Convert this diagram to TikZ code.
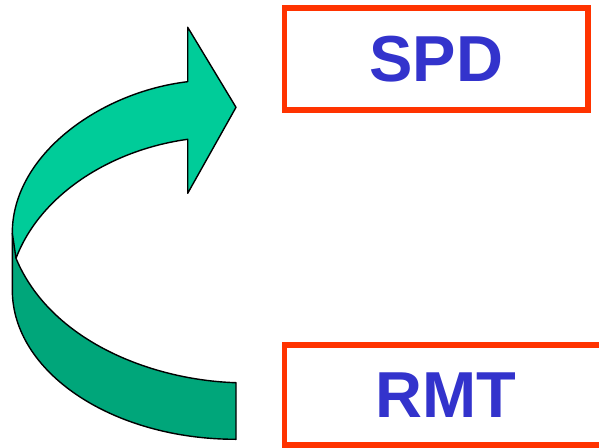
\documentclass[tikz,border=0pt]{standalone}
\usepackage{fontspec}
\setmainfont{Liberation Sans}
\usepackage{tikz}
\usetikzlibrary{positioning}
\definecolor{boxred}{RGB}{255,51,0}
\definecolor{textblue}{RGB}{51,51,204}
\definecolor{lightgreen}{RGB}{0,204,153}
\definecolor{darkgreen}{RGB}{0,166,122}

\begin{document}
\begin{tikzpicture}[
    x=1pt, y=-1pt,
    labelbox/.style={draw=boxred, line width=5.5pt, fill=white, inner sep=0pt,
      font=\fontsize{65}{70}\selectfont\bfseries, text=textblue},
    ribbon/.style={draw=black, line width=1.4pt, line join=round}
    ]
    \clip (0,0) rectangle (599,447);

    \node[labelbox, minimum width=303.5pt, minimum height=102pt] (spd) at (436.25,59) {SPD};
    \node[labelbox, minimum width=322.5pt, minimum height=100pt] (rmt) at (445.75,395) {RMT};

    % back part of the ribbon
    \coordinate (outerleft) at (12.3,233);
    \coordinate (cross) at (16,258.3);
    \fill[darkgreen] (outerleft) -- (12.3,290) .. controls (12.3,372) and (112,439.3) .. (236,439.3)
      -- (236,382.7) .. controls (150,380) and (50,340) .. (cross) -- cycle;
    \draw[ribbon] (outerleft) -- (12.3,290) .. controls (12.3,372) and (112,439.3) .. (236,439.3)
      -- (236,382.7) .. controls (150,380) and (50,340) .. (cross);

    % front part with the head
    \draw[ribbon, fill=lightgreen] (187.7,81.7) -- (187.7,27.3) -- (236,107.3) -- (187.7,193.3)
      -- (187.7,139.3) .. controls (110,150) and (40,195) .. (cross)
      -- (outerleft) .. controls (12.3,155) and (100,92) .. cycle;

  \end{tikzpicture}
\end{document}
